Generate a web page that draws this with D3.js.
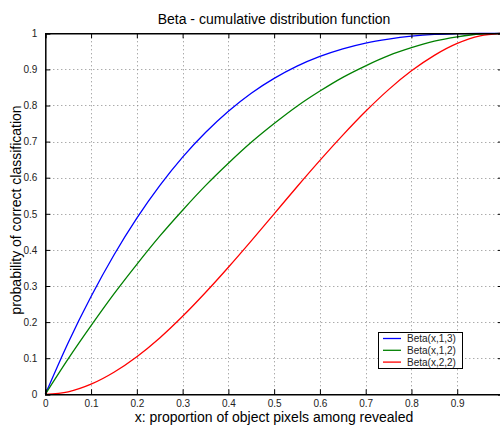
<!DOCTYPE html>
<html><head><meta charset="utf-8">
<script src="https://cdn.jsdelivr.net/npm/d3@7"></script>
<style>body{margin:0;background:#fff}svg{display:block}text{font-family:"Liberation Sans",Arial,sans-serif}</style>
</head><body>
<script>
const xs = [0,0.05,0.1,0.15,0.2,0.25,0.3,0.35,0.4,0.45,0.5,0.55,0.6,0.65,0.7,0.75,0.8,0.85,0.9,0.95,1];
const beta13 = [0,0.143,0.271,0.386,0.488,0.578,0.657,0.725,0.784,0.834,0.875,0.909,0.936,0.957,0.973,0.984,0.992,0.997,0.999,1.0,1];
const beta12 = [0,0.098,0.19,0.278,0.36,0.438,0.51,0.578,0.64,0.698,0.75,0.798,0.84,0.878,0.91,0.938,0.96,0.978,0.99,0.998,1];
const beta22 = [0,0.007,0.028,0.061,0.104,0.156,0.216,0.282,0.352,0.425,0.5,0.575,0.648,0.718,0.784,0.844,0.896,0.939,0.972,0.993,1];
const seriesNames = ["Beta(x,1,3)","Beta(x,1,2)","Beta(x,2,2)"];
const seriesColors = ["#0000ff","#008000","#ff0000"];
const xTicks = [0,0.1,0.2,0.3,0.4,0.5,0.6,0.7,0.8,0.9,1];
const xTickLabels = ["0","0.1","0.2","0.3","0.4","0.5","0.6","0.7","0.8","0.9",""];
const yTicks = [0,0.1,0.2,0.3,0.4,0.5,0.6,0.7,0.8,0.9,1];
const yTickLabels = ["0","0.1","0.2","0.3","0.4","0.5","0.6","0.7","0.8","0.9","1"];

const W=500,H=426;
const L=45.3,R=503,T=33.3,B=394.3;
const svg=d3.select("body").append("svg").attr("width",W).attr("height",H);
const x=d3.scaleLinear().domain([0,1]).range([L,R]);
const y=d3.scaleLinear().domain([0,1]).range([B,T]);

// grid
const g=svg.append("g");
g.selectAll(".gx").data(xTicks.slice(1)).join("line")
 .attr("x1",d=>Math.round(x(d))+0.5).attr("x2",d=>Math.round(x(d))+0.5).attr("y1",T).attr("y2",B)
 .attr("stroke","#888").attr("stroke-dasharray","1,3");
g.selectAll(".gy").data(yTicks.slice(1,-1)).join("line")
 .attr("y1",d=>Math.round(y(d))+0.5).attr("y2",d=>Math.round(y(d))+0.5).attr("x1",L).attr("x2",R)
 .attr("stroke","#888").attr("stroke-dasharray","1,3");

// curves
const line=d3.line().x(d=>x(d[0])).y(d=>y(d[1])).curve(d3.curveMonotoneX);
[beta13,beta12,beta22].forEach((s,i)=>{
  svg.append("path").datum(xs.map((v,j)=>[v,s[j]])).attr("d",line)
   .attr("fill","none").attr("stroke",seriesColors[i]).attr("stroke-width",1.3);
});

// axes (MATLAB-like, ticks inside)
const xb=svg.append("g").attr("transform",`translate(0,${B})`)
 .call(d3.axisBottom(x).tickValues(xTicks).tickSize(-5).tickPadding(6).tickFormat((d,i)=>xTickLabels[i]));
const xt=svg.append("g").attr("transform",`translate(0,${T})`)
 .call(d3.axisTop(x).tickValues(xTicks).tickSize(-5).tickFormat(""));
const yl=svg.append("g").attr("transform",`translate(${L},0)`)
 .call(d3.axisLeft(y).tickValues(yTicks).tickSize(-5).tickPadding(8).tickFormat((d,i)=>yTickLabels[i]));
const yr=svg.append("g").attr("transform",`translate(${R},0)`)
 .call(d3.axisRight(y).tickValues(yTicks).tickSize(-5).tickFormat(""));
[xb,xt,yl,yr].forEach(a=>{
  a.select(".domain").attr("stroke","#000").attr("stroke-width",1.5);
  a.selectAll(".tick line").attr("stroke","#000");
  a.selectAll("text").attr("font-size",10).attr("fill","#222").attr("font-family","Liberation Sans, Arial, sans-serif");
});

// labels
svg.append("text").attr("x",274).attr("y",24).attr("text-anchor","middle").attr("font-size",14).text("Beta - cumulative distribution function");
svg.append("text").attr("x",274).attr("y",422).attr("text-anchor","middle").attr("font-size",14).text("x: proportion of object pixels among revealed");
svg.append("text").attr("transform",`translate(21,210) rotate(-90)`).attr("text-anchor","middle").attr("font-size",14).text("probability of correct classification");

// legend
const lg=svg.append("g");
lg.append("rect").attr("x",378.5).attr("y",332.5).attr("width",84).attr("height",36).attr("fill","#fff").attr("stroke","#000");
seriesNames.forEach((n,i)=>{
  const yy=338.5+i*11.8;
  lg.append("line").attr("x1",383).attr("x2",401).attr("y1",yy).attr("y2",yy).attr("stroke",seriesColors[i]).attr("stroke-width",1.3);
  lg.append("text").attr("x",407).attr("y",yy+3.5).attr("font-size",10).attr("fill","#222").text(n);
});
</script>
</body></html>
